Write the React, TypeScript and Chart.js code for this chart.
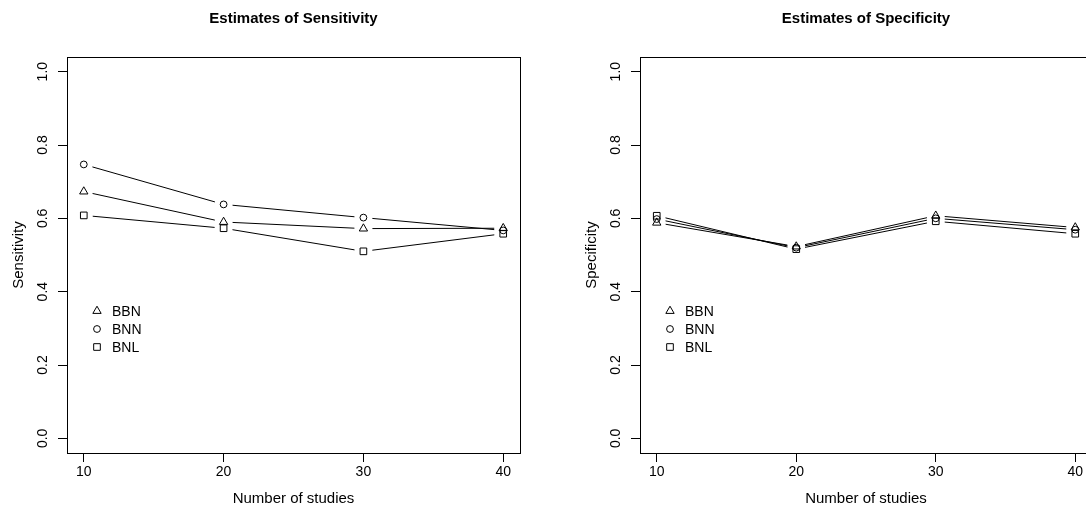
import React, { useEffect, useRef } from "react";
import { Chart, registerables } from "chart.js";

Chart.register(...registerables);
Chart.defaults.font.family = "'Liberation Sans', Arial, Helvetica, sans-serif";
Chart.defaults.color = "#000";

// ---------- data ----------
const studies = [10, 20, 30, 40];
const seriesNames = ["BBN", "BNN", "BNL"];
const seriesShapes = ["triangle", "circle", "rect"];

const sensBBN = [0.673, 0.59, 0.572, 0.573];
const sensBNN = [0.747, 0.638, 0.602, 0.567];
const sensBNL = [0.608, 0.573, 0.51, 0.558];

const specBBN = [0.588, 0.523, 0.607, 0.575];
const specBNN = [0.598, 0.52, 0.6, 0.569];
const specBNL = [0.607, 0.516, 0.592, 0.558];

const xTicks = [10, 20, 30, 40];
const yTicks = [0, 0.2, 0.4, 0.6, 0.8, 1.0];
const yTickLabels = ["0.0", "0.2", "0.4", "0.6", "0.8", "1.0"];

const FONT = "'Liberation Sans', Arial, Helvetica, sans-serif";
const GAP = 9;

function shapeRadius(shape: string) {
  if (shape === "triangle") return 4.8;
  if (shape === "rect") return 4.7;
  return 3.4;
}

function drawShape(ctx: CanvasRenderingContext2D, shape: string, x: number, y: number) {
  const r = shapeRadius(shape);
  ctx.beginPath();
  if (shape === "triangle") {
    let a = 0;
    ctx.moveTo(x + Math.sin(a) * r, y - Math.cos(a) * r);
    a += (2 * Math.PI) / 3;
    ctx.lineTo(x + Math.sin(a) * r, y - Math.cos(a) * r);
    a += (2 * Math.PI) / 3;
    ctx.lineTo(x + Math.sin(a) * r, y - Math.cos(a) * r);
    ctx.closePath();
  } else if (shape === "rect") {
    const s = Math.SQRT1_2 * r;
    ctx.rect(x - s, y - s, 2 * s, 2 * s);
  } else {
    ctx.arc(x, y, r, 0, Math.PI * 2);
  }
  ctx.stroke();
}

const rBasePlugin = {
  id: "rbase",
  afterDatasetsDraw(chart: any) {
    const { ctx, chartArea: ca } = chart;
    const o = chart.options.plugins.rbase;
    ctx.save();
    ctx.strokeStyle = "#000";
    ctx.lineWidth = 1;
    // connecting lines with gaps (R type = "b")
    chart.data.datasets.forEach((_ds: any, di: number) => {
      const pts = chart.getDatasetMeta(di).data;
      for (let i = 0; i < pts.length - 1; i++) {
        const a = pts[i];
        const b = pts[i + 1];
        const dx = b.x - a.x;
        const dy = b.y - a.y;
        const len = Math.hypot(dx, dy);
        if (len <= 2 * GAP) continue;
        const ux = dx / len;
        const uy = dy / len;
        ctx.beginPath();
        ctx.moveTo(a.x + ux * GAP, a.y + uy * GAP);
        ctx.lineTo(b.x - ux * GAP, b.y - uy * GAP);
        ctx.stroke();
      }
    });
    // box
    ctx.strokeRect(
      Math.round(ca.left) + 0.5,
      Math.round(ca.top) + 0.5,
      Math.round(ca.right) - Math.round(ca.left),
      Math.round(ca.bottom) - Math.round(ca.top)
    );
    // y tick labels (rotated, as in R)
    const ys = chart.scales.y;
    ctx.fillStyle = "#000";
    ctx.font = `14px ${FONT}`;
    ctx.textAlign = "center";
    ctx.textBaseline = "middle";
    yTicks.forEach((v, i) => {
      const py = ys.getPixelForValue(v);
      ctx.save();
      ctx.translate(ca.left - 24, py);
      ctx.rotate(-Math.PI / 2);
      ctx.fillText(yTickLabels[i], 0, 0);
      ctx.restore();
    });
    // y axis title
    ctx.font = `15px ${FONT}`;
    ctx.save();
    ctx.translate(ca.left - 48, (ca.top + ca.bottom) / 2);
    ctx.rotate(-Math.PI / 2);
    ctx.fillText(o.yTitle, 0, 0);
    ctx.restore();
    // x axis title
    ctx.fillText(o.xTitle, (ca.left + ca.right) / 2, 499);
    // main title
    ctx.font = `bold 15px ${FONT}`;
    ctx.fillText(o.title, (ca.left + ca.right) / 2, 19);
    // legend
    ctx.font = `14px ${FONT}`;
    ctx.textAlign = "left";
    chart.data.datasets.forEach((ds: any, di: number) => {
      const ly = 311 + di * 18;
      drawShape(ctx, ds.pointStyle, ca.left + 30, ly);
      ctx.fillText(ds.label, ca.left + 45, ly + 1);
    });
    ctx.restore();
  },
};

function makeConfig(
  title: string,
  yTitle: string,
  series: number[][],
  yAxisWidth: number,
  padRight: number
): any {
  return {
    type: "scatter",
    data: {
      datasets: series.map((vals, i) => ({
        label: seriesNames[i],
        data: studies.map((s, j) => ({ x: s, y: vals[j] })),
        showLine: false,
        pointStyle: seriesShapes[i],
        pointRadius: shapeRadius(seriesShapes[i]),
        pointHoverRadius: shapeRadius(seriesShapes[i]),
        pointBorderWidth: 1,
        borderColor: "#000",
        backgroundColor: "rgba(0,0,0,0)",
        pointBackgroundColor: "rgba(0,0,0,0)",
        pointBorderColor: "#000",
      })),
    },
    options: {
      responsive: false,
      animation: false,
      events: [],
      layout: { padding: { left: 0, top: 57, right: padRight, bottom: 0 } },
      plugins: {
        legend: { display: false },
        title: { display: false },
        tooltip: { enabled: false },
        rbase: { title, yTitle, xTitle: "Number of studies" },
      },
      scales: {
        x: {
          type: "linear",
          min: 8.8,
          max: 41.2,
          afterBuildTicks: (sc: any) => {
            sc.ticks = xTicks.map((v) => ({ value: v }));
          },
          afterFit: (sc: any) => {
            sc.height = 59;
          },
          border: { display: false },
          grid: {
            display: true,
            drawOnChartArea: false,
            drawTicks: true,
            tickLength: 9,
            color: "#000",
            lineWidth: 1,
          },
          ticks: {
            font: { size: 14 },
            color: "#000",
            padding: 2,
            maxRotation: 0,
            autoSkip: false,
            callback: (v: any) => String(v),
          },
        },
        y: {
          type: "linear",
          min: -0.04,
          max: 1.04,
          afterBuildTicks: (sc: any) => {
            sc.ticks = yTicks.map((v) => ({ value: v }));
          },
          afterFit: (sc: any) => {
            sc.width = yAxisWidth;
          },
          border: { display: false },
          grid: {
            display: true,
            drawOnChartArea: false,
            drawTicks: true,
            tickLength: 9,
            color: "#000",
            lineWidth: 1,
          },
          ticks: { display: false },
        },
      },
    },
    plugins: [rBasePlugin],
  };
}

function Panel(props: {
  left: number;
  title: string;
  yTitle: string;
  series: number[][];
  yAxisWidth: number;
  padRight: number;
}) {
  const ref = useRef<HTMLCanvasElement | null>(null);
  useEffect(() => {
    if (!ref.current) return;
    const chart = new Chart(
      ref.current,
      makeConfig(props.title, props.yTitle, props.series, props.yAxisWidth, props.padRight)
    );
    return () => chart.destroy();
  }, []);
  return (
    <canvas
      ref={ref}
      width={560}
      height={512}
      style={{ position: "absolute", left: props.left, top: 0, width: 560, height: 512 }}
    />
  );
}

export default function App() {
  return (
    <div
      style={{
        position: "absolute",
        left: 0,
        top: 0,
        width: 1086,
        height: 512,
        overflow: "hidden",
        background: "#fff",
      }}
    >
      <Panel
        left={0}
        title="Estimates of Sensitivity"
        yTitle="Sensitivity"
        series={[sensBBN, sensBNN, sensBNL]}
        yAxisWidth={67}
        padRight={40}
      />
      <Panel
        left={560}
        title="Estimates of Specificity"
        yTitle="Specificity"
        series={[specBBN, specBNN, specBNL]}
        yAxisWidth={80}
        padRight={28}
      />
    </div>
  );
}
